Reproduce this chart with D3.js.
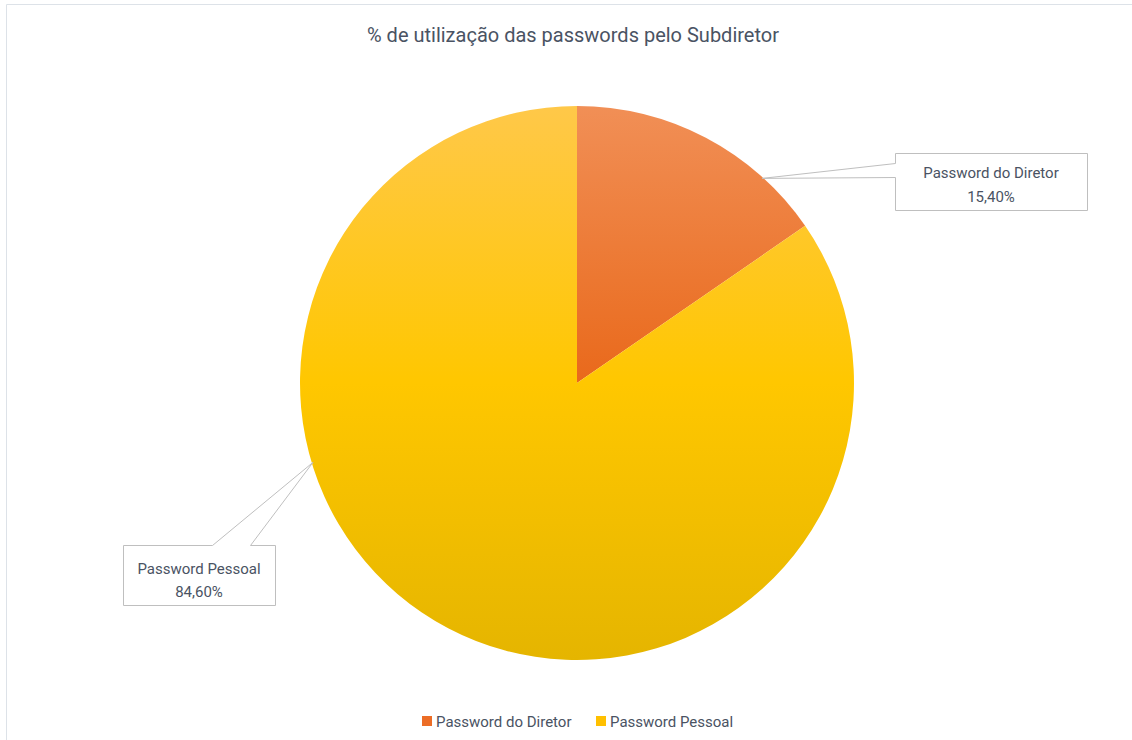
<!DOCTYPE html>
<html>
<head>
<meta charset="utf-8">
<script src="https://cdn.jsdelivr.net/npm/d3@7"></script>
<style>
  html, body { margin: 0; padding: 0; background: #fff; }
  svg { display: block; }
  text { font-family: "Liberation Sans Narrow", "Roboto", "DejaVu Sans", sans-serif; fill: #4a5363; }
</style>
</head>
<body>
<svg id="chart" width="1132" height="740"></svg>
<script>
// Share of password usage by the deputy director
const categories = ["Password do Diretor", "Password Pessoal"];
const values = [15.40, 84.60];
const valueLabels = ["15,40%", "84,60%"];
const title = "% de utilização das passwords pelo Subdiretor";

const W = 1132, H = 740;
const cx = 577, cy = 383, R = 277;

// gradient stops per slice: light top, base middle, dark bottom
const sliceGradients = [
  ["#f18f56", "#e9691b", "#dc5e15"],
  ["#ffc849", "#ffc700", "#e5b500"]
];
const legendColors = ["#ec6d26", "#ffc000"];

const svg = d3.select("#chart");

// outer chart frame
svg.append("path")
  .attr("d", `M6.5,${H} V4.5 H${W}`)
  .attr("fill", "none")
  .attr("stroke", "#dde2e8")
  .attr("stroke-width", 1);

// vertical gradients spanning the whole pie, in the pie group's coordinates
const defs = svg.append("defs");
sliceGradients.forEach((stops, i) => {
  const g = defs.append("linearGradient")
    .attr("id", "grad" + i)
    .attr("gradientUnits", "userSpaceOnUse")
    .attr("x1", 0).attr("y1", -R)
    .attr("x2", 0).attr("y2", R);
  g.append("stop").attr("offset", "0%").attr("stop-color", stops[0]);
  g.append("stop").attr("offset", "50%").attr("stop-color", stops[1]);
  g.append("stop").attr("offset", "100%").attr("stop-color", stops[2]);
});

// title
svg.append("text")
  .attr("x", 573).attr("y", 42)
  .attr("text-anchor", "middle")
  .attr("font-size", 21)
  .attr("textLength", 412)
  .attr("lengthAdjust", "spacingAndGlyphs")
  .text(title);

const data = categories.map((c, i) => ({ name: c, value: values[i], label: valueLabels[i] }));

const pie = d3.pie().value(d => d.value).sort(null);
const arcs = pie(data);
const arc = d3.arc().innerRadius(0).outerRadius(R);

const g = svg.append("g").attr("transform", `translate(${cx},${cy})`);
g.selectAll("path.slice")
  .data(arcs)
  .join("path")
  .attr("class", "slice")
  .attr("d", arc)
  .attr("fill", (d, i) => `url(#grad${i})`);

// callouts: box plus wedge pointing to a point on the slice edge
const callouts = [
  { box: [895, 153, 192, 57], anchorAngle: 42, wedge: "left", w: [163, 177], textY: [178, 202] },
  { box: [123, 545, 152, 60], anchorAngle: 253.4, wedge: "top", w: [212, 250], textY: [574, 597] }
];

function pointAt(deg, r) {
  const a = deg * Math.PI / 180;
  return [cx + r * Math.sin(a), cy - r * Math.cos(a)];
}

callouts.forEach((c, i) => {
  const [bx, by, bw, bh] = c.box;
  const [px, py] = pointAt(c.anchorAngle, R - 1);
  let p;
  if (c.wedge === "left") {
    p = `M${bx},${by} H${bx + bw} V${by + bh} H${bx} V${c.w[1]} L${px},${py} L${bx},${c.w[0]} Z`;
  } else {
    p = `M${bx},${by} H${c.w[0]} L${px},${py} L${c.w[1]},${by} H${bx + bw} V${by + bh} H${bx} Z`;
  }
  svg.append("path")
    .attr("d", p)
    .attr("fill", "#fff")
    .attr("stroke", "#bfbfbf")
    .attr("stroke-width", 1)
    .attr("transform", "translate(0.5,0.5)");
  const tx = bx + bw / 2;
  svg.append("text")
    .attr("x", tx).attr("y", c.textY[0])
    .attr("text-anchor", "middle")
    .attr("font-size", 15)
    .text(data[i].name);
  svg.append("text")
    .attr("x", tx).attr("y", c.textY[1])
    .attr("text-anchor", "middle")
    .attr("font-size", 15)
    .text(data[i].label);
});

// legend
const legendItems = [
  { x: 422, textX: 436 },
  { x: 596, textX: 610 }
];
legendItems.forEach((L, i) => {
  svg.append("rect")
    .attr("x", L.x).attr("y", 716)
    .attr("width", 10).attr("height", 10)
    .attr("fill", legendColors[i]);
  svg.append("text")
    .attr("x", L.textX).attr("y", 727)
    .attr("font-size", 15)
    .text(categories[i]);
});
</script>
</body>
</html>
